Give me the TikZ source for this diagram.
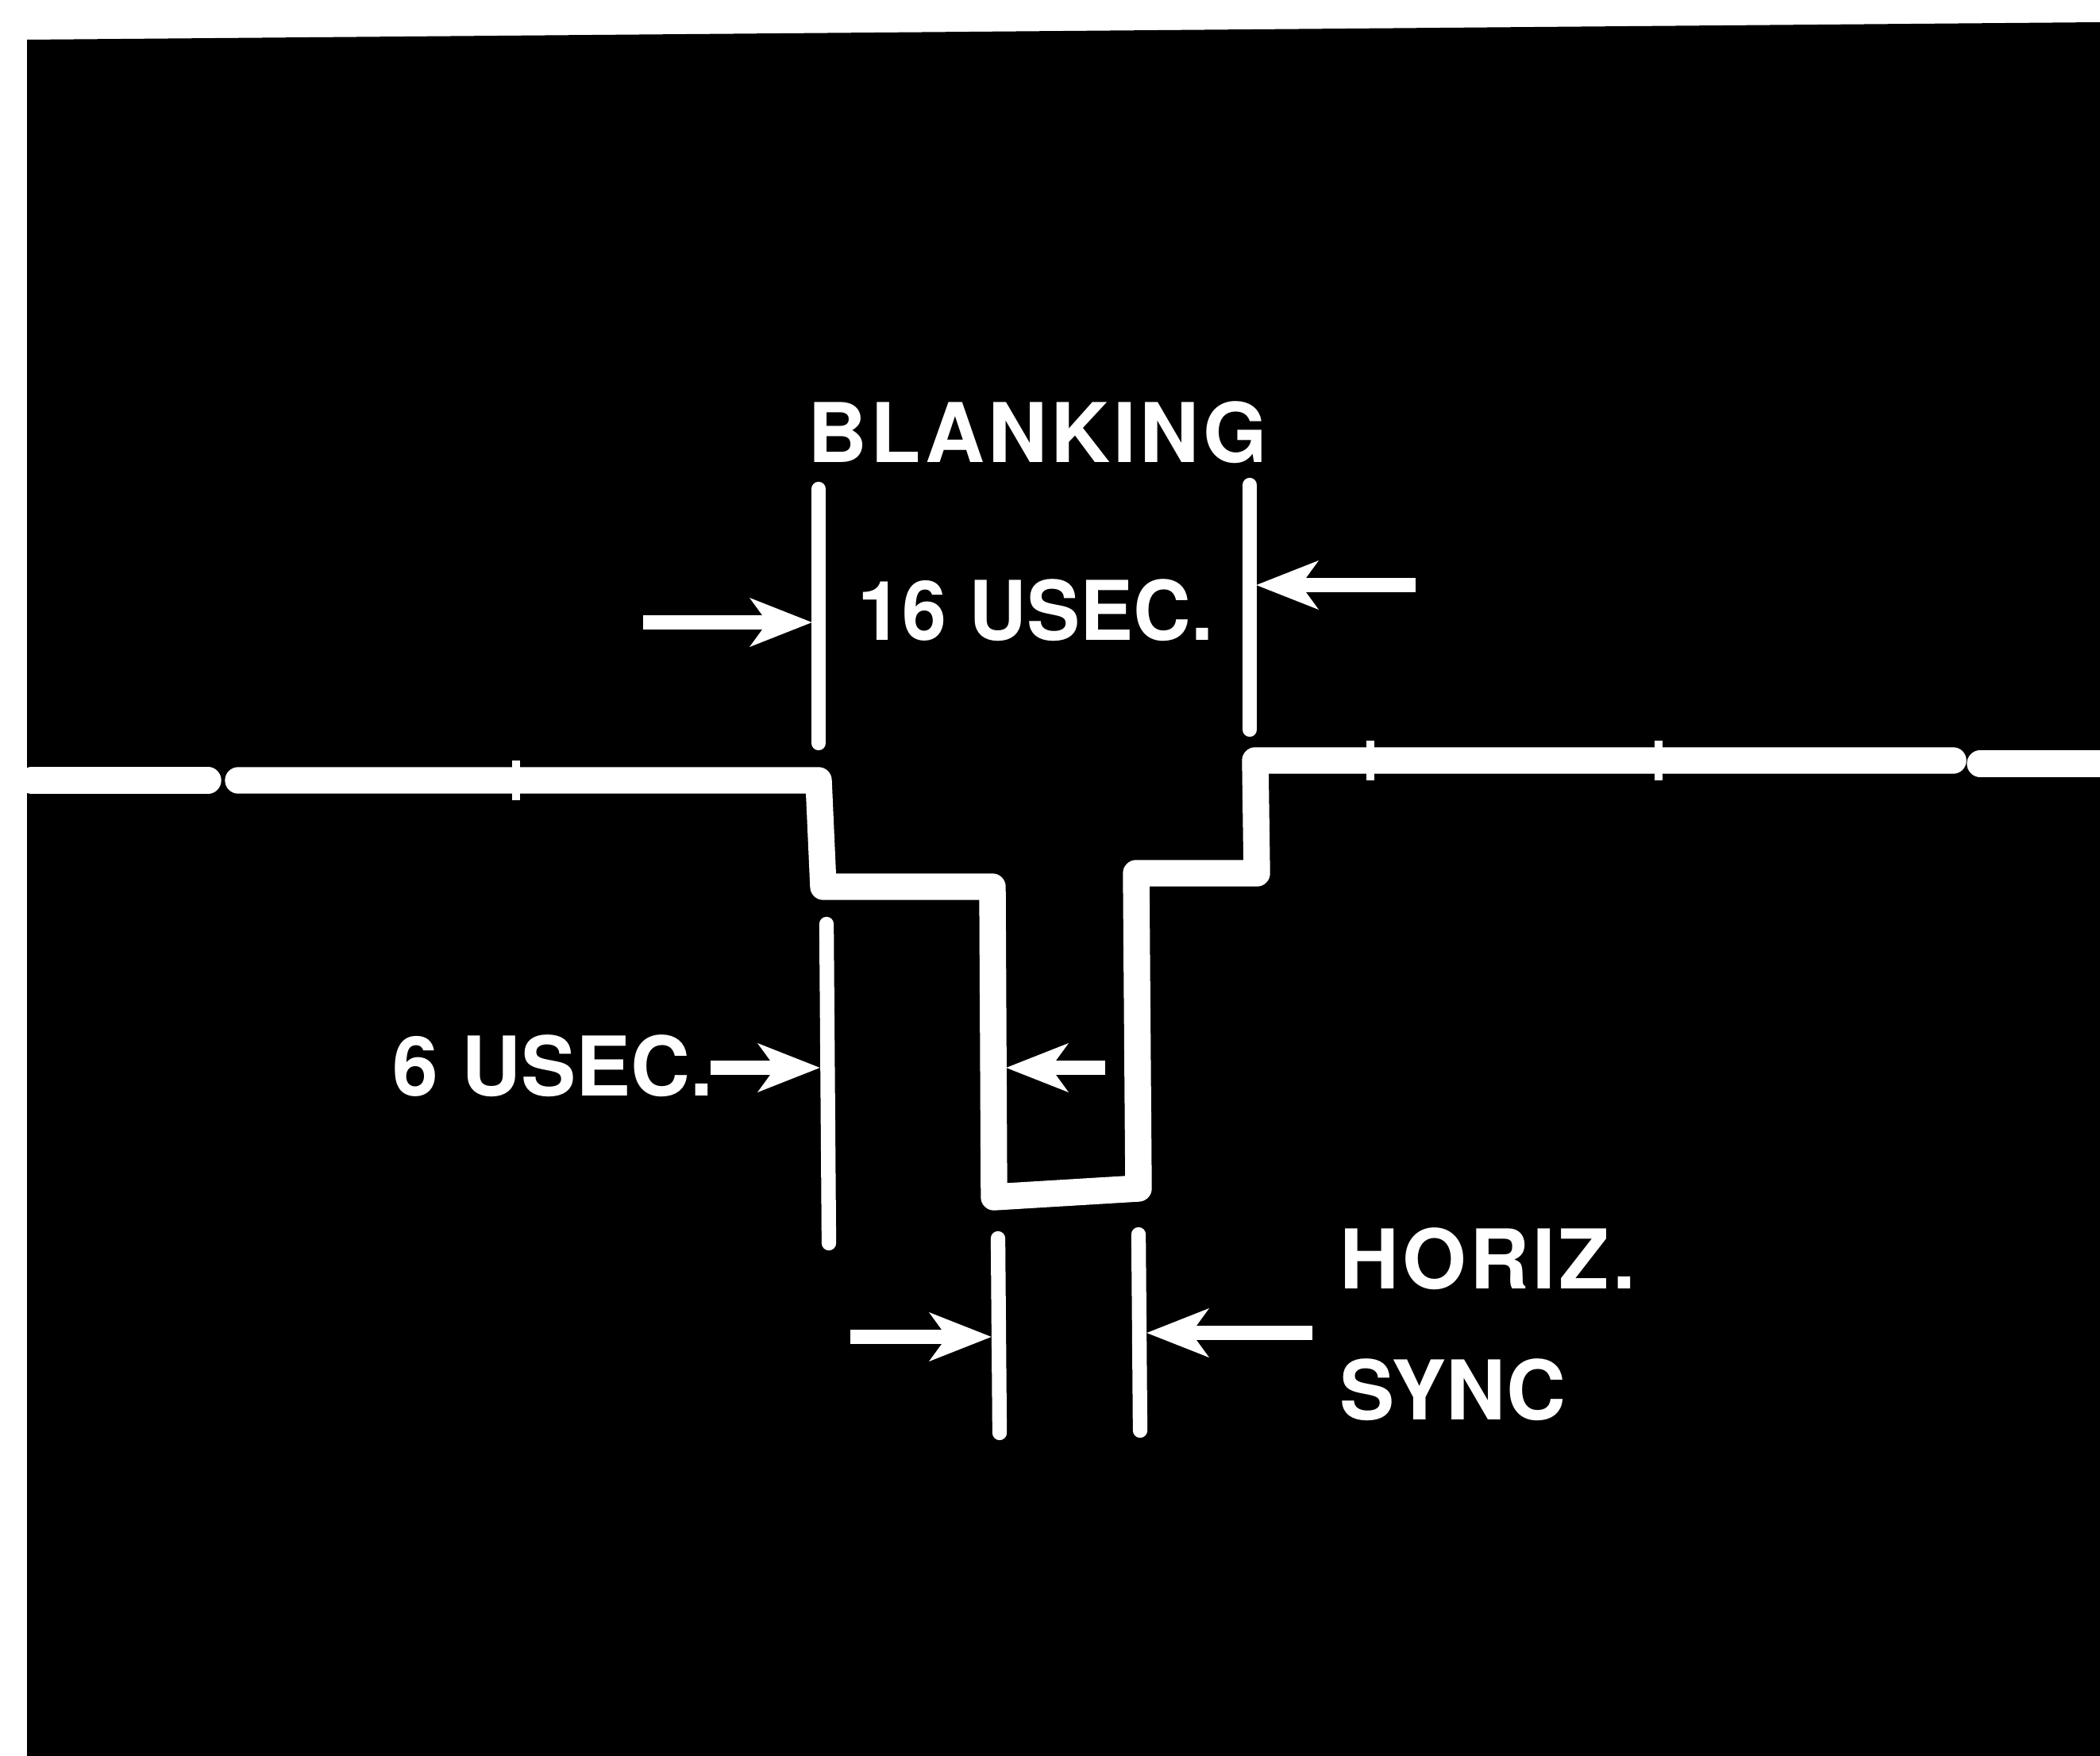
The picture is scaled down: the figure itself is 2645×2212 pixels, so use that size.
\documentclass[tikz,border=0pt]{standalone}
\usepackage{fontspec}
\newfontfamily\labfont{TeX Gyre Heros}
\newfontfamily\labfontwide{TeX Gyre Heros}[LetterSpace=4]
\usetikzlibrary{arrows.meta}
\begin{document}
\begin{tikzpicture}[x=0.01cm,y=-0.01cm,
  wave/.style={white, line width=9.5pt, line cap=round, line join=round},
  dimline/.style={white, line width=5.2pt, line cap=round},
  dimarrow/.style={white, line width=5.2pt, -{Stealth[length=22pt,width=17pt,inset=6pt]}},
  lab/.style={white, inner sep=0pt, anchor=base west, font=\labfont\bfseries\fontsize{29.5pt}{30pt}\selectfont},
  labwide/.style={lab, font=\labfontwide\bfseries\fontsize{29.5pt}{30pt}\selectfont},
  tickmark/.style={white, line width=3pt}]
\useasboundingbox (0,0) rectangle (2645,2212);
\fill[white] (0,0) rectangle (2645,2212);
\fill[black] (34,50) -- (2645,28) -- (2645,2212) -- (34,2212) -- cycle;

% waveform
\draw[wave] (40,983) -- (262,983);
\draw[wave] (300,983) -- (1031,983) -- (1037,1117) -- (1250,1117) -- (1252,1508)
  -- (1434,1497) -- (1431,1100) -- (1583,1100) -- (1581,958) -- (2460,958);
\draw[wave] (2494,962) -- (2645,962);
\draw[tickmark] (650,958) -- (650,1008);
\draw[tickmark] (1726,933) -- (1726,983);
\draw[tickmark] (2089,933) -- (2089,983);

% labels
\node[labwide] (blank) at (1017,582) {BLANKING};
\node[lab, xscale=0.97] (usec16) at (1080,806) {16 USEC.};
\node[lab] (usec6) at (494,1380) {6 USEC.};
\node[labwide] (horiz) at (1687,1623) {HORIZ.};
\node[lab] (sync) at (1687,1788) {SYNC};

% blanking dimension
\coordinate (b1t) at (1031,616); \coordinate (b1b) at (1031,936);
\coordinate (b2t) at (1574,611); \coordinate (b2b) at (1574,919);
\draw[dimline] (b1t) -- (b1b);
\draw[dimline] (b2t) -- (b2b);
\coordinate (bl0) at (810,784); \coordinate (bl1) at (1023,784);
\coordinate (br0) at (1783,737); \coordinate (br1) at (1582,737);
\draw[dimarrow] (bl0) -- (bl1);
\draw[dimarrow] (br0) -- (br1);

% 6 usec dimension
\coordinate (s6t) at (1041,1164); \coordinate (s6b) at (1044,1566);
\draw[dimline] (s6t) -- (s6b);
\coordinate (a6l0) at (895,1345); \coordinate (a6l1) at (1033,1345);
\coordinate (a6r0) at (1392,1345); \coordinate (a6r1) at (1267,1345);
\draw[dimarrow] (a6l0) -- (a6l1);
\draw[dimarrow] (a6r0) -- (a6r1);

% horiz sync dimension
\coordinate (h1t) at (1257,1560); \coordinate (h1b) at (1259,1805);
\coordinate (h2t) at (1434,1555); \coordinate (h2b) at (1436,1802);
\draw[dimline] (h1t) -- (h1b);
\draw[dimline] (h2t) -- (h2b);
\coordinate (hl0) at (1071,1684); \coordinate (hl1) at (1249,1684);
\coordinate (hr0) at (1653,1679); \coordinate (hr1) at (1444,1679);
\draw[dimarrow] (hl0) -- (hl1);
\draw[dimarrow] (hr0) -- (hr1);
\end{tikzpicture}
\end{document}
